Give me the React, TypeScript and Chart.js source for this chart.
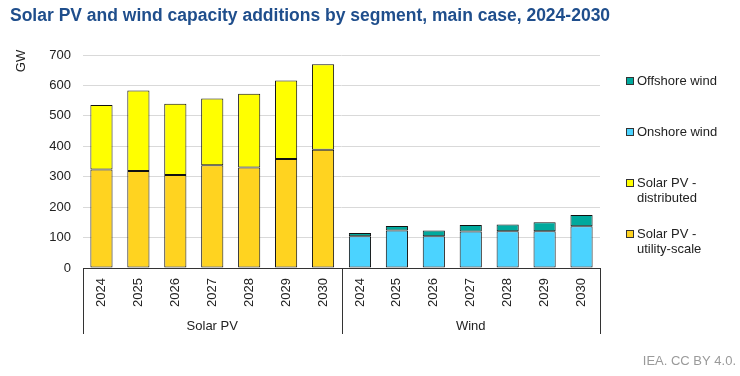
import React, { useEffect, useRef } from "react";
import { Chart, registerables } from "chart.js";

Chart.register(...registerables);

const years = ["2024", "2025", "2026", "2027", "2028", "2029", "2030"];
const groups = ["Solar PV", "Wind"];
const solarUtility = [324, 319, 306, 338, 330, 358, 389];
const solarDistributed = [212, 264, 234, 219, 243, 258, 281];
const windOnshore = [104, 123, 104, 120, 121, 121, 137];
const windOffshore = [11, 15, 19, 21, 22, 29, 37];
const yTicks = [0, 100, 200, 300, 400, 500, 600, 700];

const TITLE = "Solar PV and wind capacity additions by segment, main case, 2024-2030";
const FONT = "'Liberation Sans', Arial, sans-serif";

const COLORS = {
  utility: "#FFD320",
  distributed: "#FFFF00",
  onshore: "#4BD3FF",
  offshore: "#00A99D",
  title: "#1F4E8C",
  text: "#222222",
  grid: "#D9D9D9",
  axis: "#333333",
  footer: "#9A9A9A",
};

const legendItems = [
  { lines: ["Offshore wind"], color: COLORS.offshore, y: 81 },
  { lines: ["Onshore wind"], color: COLORS.onshore, y: 132 },
  { lines: ["Solar PV -", "distributed"], color: COLORS.distributed, y: 183 },
  { lines: ["Solar PV -", "utility-scale"], color: COLORS.utility, y: 234 },
];

export default function App() {
  const ref = useRef<HTMLCanvasElement | null>(null);

  useEffect(() => {
    const canvas = ref.current;
    if (!canvas) return;
    const nullPad = (n: number) => new Array(n).fill(null);
    const labels = [...years, ...years];

    const decor = {
      id: "decor",
      afterDraw(chart: any) {
        const ctx = chart.ctx;
        const area = chart.chartArea;
        const xs = chart.scales.x;
        ctx.save();
        // title
        ctx.font = `bold 17.5px ${FONT}`;
        ctx.fillStyle = COLORS.title;
        ctx.textAlign = "left";
        ctx.textBaseline = "middle";
        ctx.fillText(TITLE, 10, 16);
        // GW axis title
        ctx.font = `13px ${FONT}`;
        ctx.fillStyle = COLORS.text;
        ctx.save();
        ctx.translate(21, 61);
        ctx.rotate(-Math.PI / 2);
        ctx.textAlign = "center";
        ctx.textBaseline = "middle";
        ctx.fillText("GW", 0, 0);
        ctx.restore();
        // group separators and labels
        const half = (xs.getPixelForValue(1) - xs.getPixelForValue(0)) / 2;
        const n = years.length;
        const bounds = [
          xs.getPixelForValue(0) - half,
          xs.getPixelForValue(n - 1) + half,
          xs.getPixelForValue(2 * n - 1) + half,
        ];
        ctx.strokeStyle = COLORS.axis;
        ctx.lineWidth = 1;
        bounds.forEach((bx) => {
          const px = Math.round(bx) + 0.5;
          ctx.beginPath();
          ctx.moveTo(px, area.bottom);
          ctx.lineTo(px, area.bottom + 66);
          ctx.stroke();
        });
        ctx.fillStyle = COLORS.text;
        ctx.textAlign = "center";
        ctx.textBaseline = "middle";
        groups.forEach((g, i) => {
          ctx.fillText(g, (bounds[i] + bounds[i + 1]) / 2, 326);
        });
        // legend
        ctx.textAlign = "left";
        legendItems.forEach((it) => {
          ctx.fillStyle = it.color;
          ctx.fillRect(626.5, it.y - 3.5, 7, 7);
          ctx.strokeStyle = "#333333";
          ctx.strokeRect(626.5, it.y - 3.5, 7, 7);
          ctx.fillStyle = COLORS.text;
          it.lines.forEach((l, k) => ctx.fillText(l, 637, it.y + k * 15.5));
        });
        // footer
        ctx.font = `13px ${FONT}`;
        ctx.fillStyle = COLORS.footer;
        ctx.textAlign = "right";
        ctx.fillText("IEA. CC BY 4.0.", 736, 361);
        ctx.restore();
      },
    };

    const barCommon = {
      borderColor: "#111111",
      borderWidth: 1,
      borderSkipped: false,
      barPercentage: 0.6,
      categoryPercentage: 1,
    };

    const chart = new Chart(canvas, {
      type: "bar",
      data: {
        labels,
        datasets: [
          { label: "Solar PV - utility-scale", data: [...solarUtility, ...nullPad(7)], backgroundColor: COLORS.utility, ...barCommon },
          { label: "Solar PV - distributed", data: [...solarDistributed, ...nullPad(7)], backgroundColor: COLORS.distributed, ...barCommon },
          { label: "Onshore wind", data: [...nullPad(7), ...windOnshore], backgroundColor: COLORS.onshore, ...barCommon },
          { label: "Offshore wind", data: [...nullPad(7), ...windOffshore], backgroundColor: COLORS.offshore, ...barCommon },
        ] as any,
      },
      options: {
        animation: false,
        responsive: false,
        layout: { padding: { top: 55, right: 140, bottom: 0, left: 0 } },
        plugins: {
          legend: { display: false },
          title: { display: false },
          tooltip: { enabled: false },
        },
        scales: {
          x: {
            stacked: true,
            grid: { display: false },
            border: { display: true, color: COLORS.axis, width: 1 },
            ticks: {
              color: COLORS.text,
              font: { family: FONT, size: 13 },
              minRotation: 90,
              maxRotation: 90,
              padding: 2,
              autoSkip: false,
            },
            afterFit(scale: any) {
              scale.height = 108;
            },
          },
          y: {
            stacked: true,
            min: 0,
            max: 700,
            afterBuildTicks(scale: any) {
              scale.ticks = yTicks.map((v) => ({ value: v }));
            },
            grid: { color: COLORS.grid, drawTicks: false },
            border: { display: false },
            ticks: {
              color: COLORS.text,
              font: { family: FONT, size: 13 },
              padding: 12,
            },
            afterFit(scale: any) {
              scale.width = 83;
            },
          },
        },
      },
      plugins: [decor],
    } as any);

    return () => chart.destroy();
  }, []);

  return (
    <div style={{ position: "absolute", left: 0, top: 0, width: 740, height: 376 }}>
      <canvas ref={ref} width={740} height={376} style={{ display: "block" }} />
    </div>
  );
}
